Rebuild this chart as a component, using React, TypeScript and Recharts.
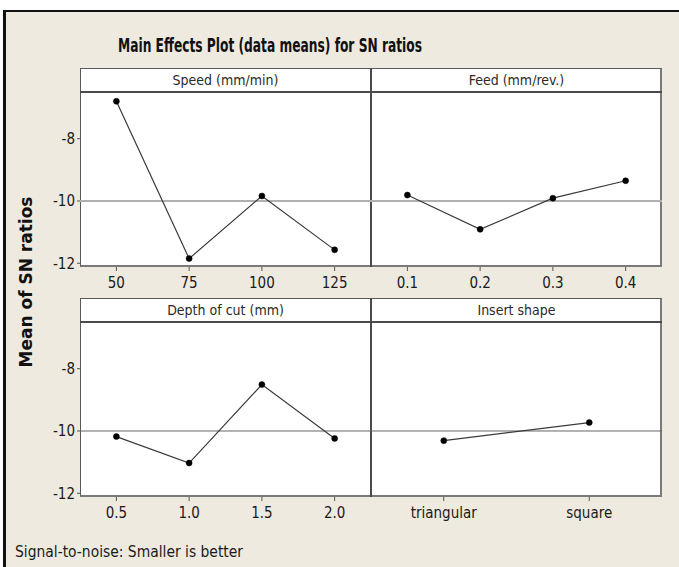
import React from 'react'
import { LineChart, Line, XAxis, YAxis, ReferenceLine } from 'recharts'

const speedLevels = ['50', '75', '100', '125']
const speedSN = [-6.8, -11.85, -9.84, -11.57]

const feedLevels = ['0.1', '0.2', '0.3', '0.4']
const feedSN = [-9.81, -10.91, -9.91, -9.35]

const depthLevels = ['0.5', '1.0', '1.5', '2.0']
const depthSN = [-10.18, -11.03, -8.51, -10.24]

const shapeLevels = ['triangular', 'square']
const shapeSN = [-10.31, -9.73]

const yTicks = [-12, -10, -8]
const grandMean = -10.0

const FONT = '"DejaVu Sans Condensed", "DejaVu Sans", "Liberation Sans", sans-serif'
const PLOT_W = 291
const PLOT_H = 175
const YAXIS_W = 45
const XAXIS_H = 30

type PanelProps = {
  title: string
  levels: string[]
  values: number[]
  left: number
  top: number
  showY: boolean
  refColor: string
  refWidth: number
}

function Panel({ title, levels, values, left, top, showY, refColor, refWidth }: PanelProps) {
  const data = levels.map((l, i) => ({ level: l, sn: values[i] }))
  const pad = PLOT_W / levels.length / 2
  const yw = showY ? YAXIS_W : 0
  return (
    <>
      <div
        style={{
          position: 'absolute',
          left,
          top: top - 24,
          width: PLOT_W,
          height: 24,
          textAlign: 'center',
          fontFamily: FONT,
          fontSize: 14,
          lineHeight: '24px',
          color: '#2a2a2a',
        }}
      >
        {title}
      </div>
      <div style={{ position: 'absolute', left: left - yw, top }}>
        <LineChart
          width={PLOT_W + yw}
          height={PLOT_H + XAXIS_H}
          data={data}
          margin={{ top: 0, right: 0, bottom: 0, left: 0 }}
          style={{ overflow: 'visible' }}
        >
          <XAxis
            dataKey="level"
            type="category"
            height={XAXIS_H}
            padding={{ left: pad, right: pad }}
            axisLine={false}
            tickLine={{ stroke: '#555' }}
            tickSize={4}
            tickMargin={6}
            interval={0}
            tick={{ fill: '#1a1a1a', fontSize: 15, fontFamily: FONT }}
          />
          <YAxis
            hide={!showY}
            width={YAXIS_W}
            domain={[-12.12, -6.5]}
            ticks={yTicks}
            axisLine={false}
            tickLine={{ stroke: '#555' }}
            tickSize={3}
            tickMargin={2}
            tick={{ fill: '#1a1a1a', fontSize: 15, fontFamily: FONT }}
          />
          <ReferenceLine y={grandMean} stroke={refColor} strokeWidth={refWidth} />
          <Line
            dataKey="sn"
            stroke="#3a3a3a"
            strokeWidth={1.2}
            dot={{ r: 3, fill: '#000', stroke: '#000', strokeWidth: 0.5 }}
            isAnimationActive={false}
          />
        </LineChart>
      </div>
    </>
  )
}

function Box({ top }: { top: number }) {
  return (
    <>
      <div
        style={{
          position: 'absolute',
          left: 80,
          top: top - 24,
          width: 582,
          height: PLOT_H + 24,
          boxSizing: 'border-box',
          background: '#fff',
          border: '1.5px solid #5a5a5a',
          borderRight: '2px solid #7a7a7a',
          borderBottom: '2px solid #7a7a7a',
        }}
      />
      <div style={{ position: 'absolute', left: 80, top: top - 1, width: 582, height: 1.5, background: '#4a4a4a' }} />
      <div style={{ position: 'absolute', left: 370, top: top - 24, width: 1.5, height: PLOT_H + 24, background: '#4a4a4a' }} />
    </>
  )
}

export default function App() {
  return (
    <div style={{ position: 'absolute', left: 0, top: 0, width: 679, height: 567, background: '#fff', overflow: 'hidden' }}>
      <div
        style={{
          position: 'absolute',
          left: 3,
          top: 10,
          width: 680,
          height: 570,
          boxSizing: 'border-box',
          background: '#EEEAE0',
          borderLeft: '3px solid #111',
          borderTop: '2px solid #111',
        }}
      />
      <Box top={92} />
      <Box top={322} />
      <Panel title="Speed (mm/min)" levels={speedLevels} values={speedSN} left={80} top={92} showY refColor="#b0b0b0" refWidth={2} />
      <Panel title="Feed (mm/rev.)" levels={feedLevels} values={feedSN} left={371} top={92} showY={false} refColor="#b0b0b0" refWidth={2} />
      <Panel title="Depth of cut (mm)" levels={depthLevels} values={depthSN} left={80} top={322} showY refColor="#666" refWidth={1} />
      <Panel title="Insert shape" levels={shapeLevels} values={shapeSN} left={371} top={322} showY={false} refColor="#666" refWidth={1} />
      <svg width={679} height={567} style={{ position: 'absolute', left: 0, top: 0, pointerEvents: 'none' }}>
        <text
          x={270}
          y={52}
          textAnchor="middle"
          fontFamily={FONT}
          fontWeight="bold"
          fontSize={19}
          fill="#111"
          textLength={304}
          lengthAdjust="spacingAndGlyphs"
        >
          Main Effects Plot (data means) for SN ratios
        </text>
        <text
          x={0}
          y={0}
          transform="translate(32 282) rotate(-90)"
          textAnchor="middle"
          fontFamily={FONT}
          fontWeight="bold"
          fontSize={17}
          fill="#111"
          textLength={171}
          lengthAdjust="spacingAndGlyphs"
        >
          Mean of SN ratios
        </text>
        <text x={15} y={557} fontFamily={FONT} fontSize={15} fill="#1a1a1a" textLength={228} lengthAdjust="spacingAndGlyphs">
          Signal-to-noise: Smaller is better
        </text>
      </svg>
    </div>
  )
}
